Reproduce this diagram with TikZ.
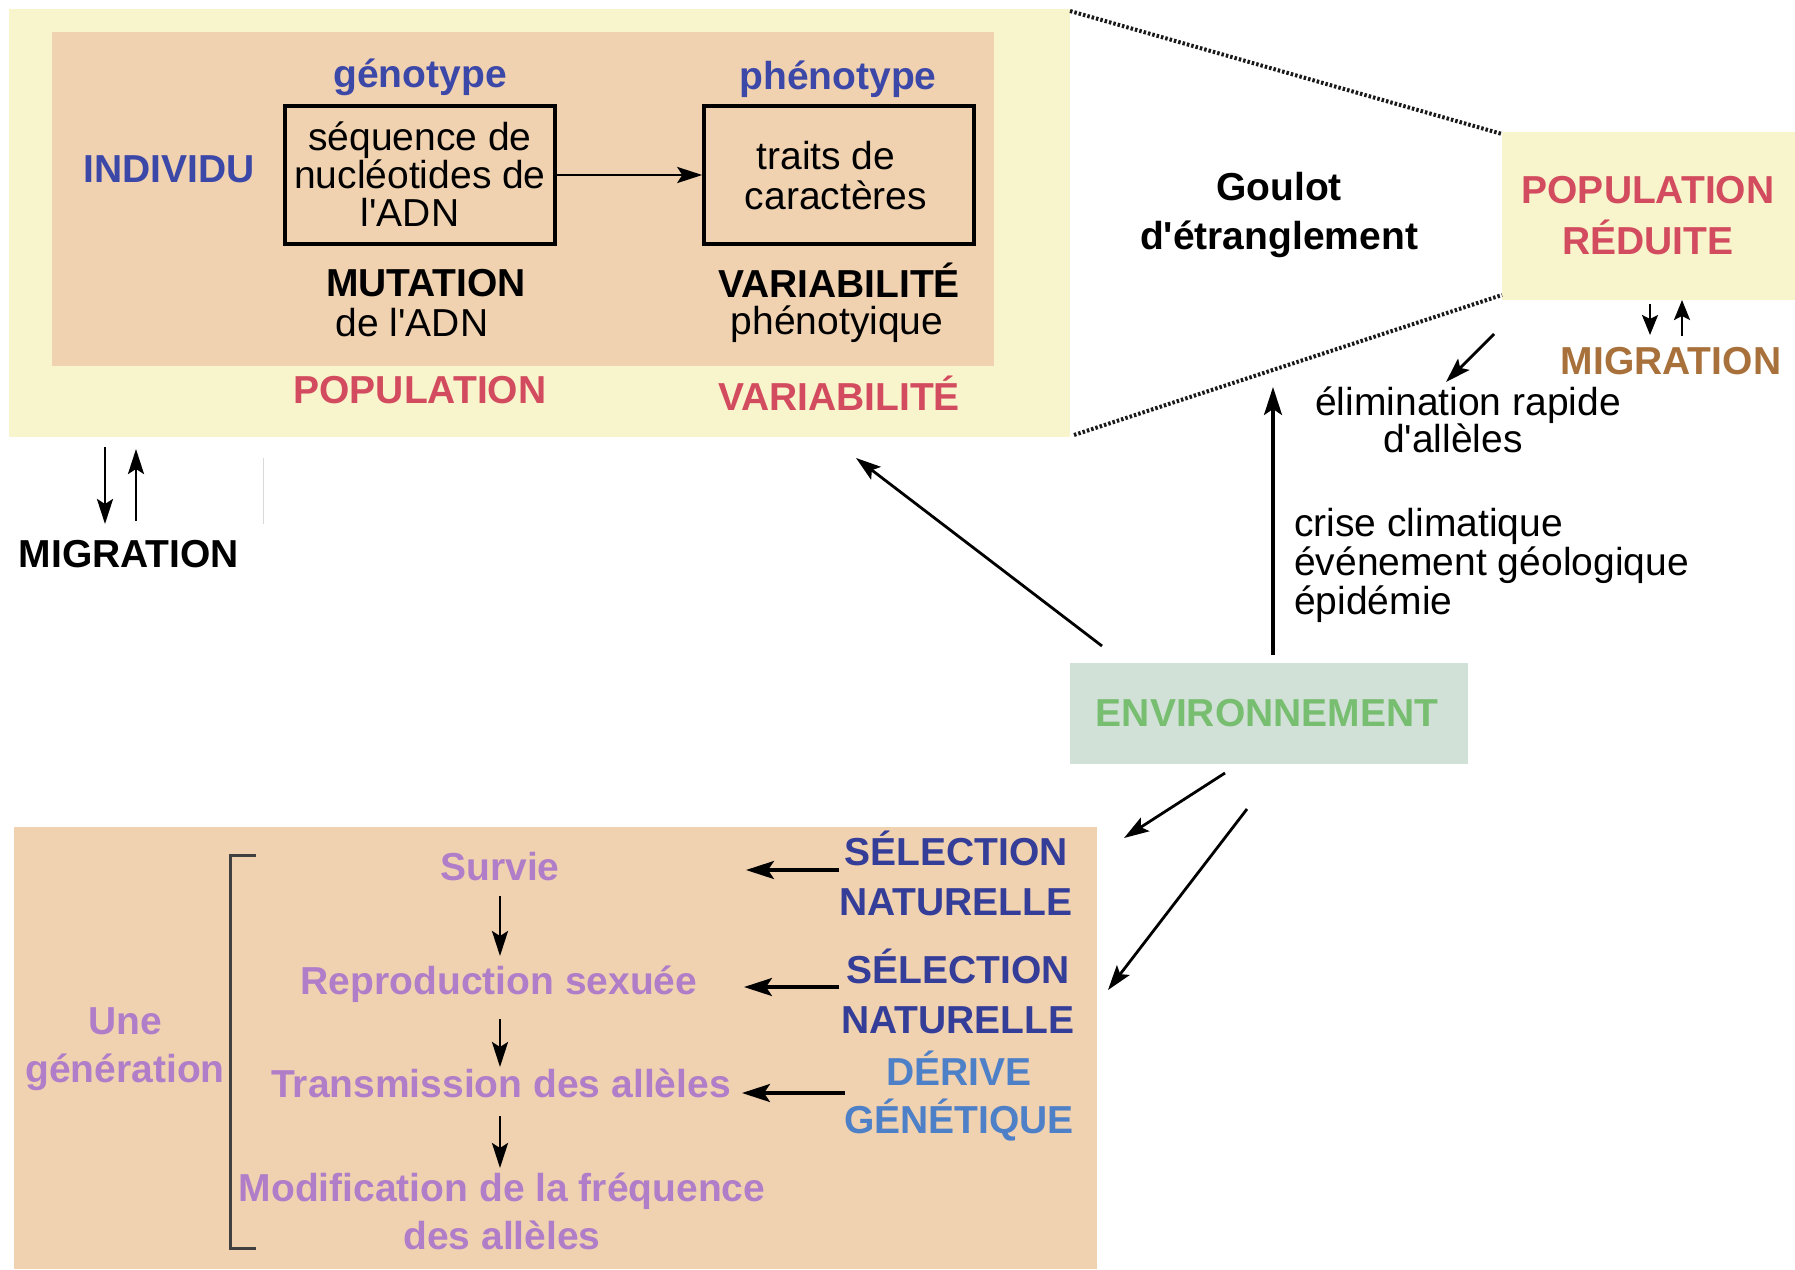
\documentclass[tikz,border=0pt]{standalone}
\usepackage{fontspec}
\setmainfont{Liberation Sans}
\usetikzlibrary{arrows.meta}

\definecolor{popyellow}{HTML}{F8F4CB}
\definecolor{peach}{HTML}{F0D2B1}
\definecolor{envbg}{HTML}{D1E1D7}
\definecolor{envgreen}{HTML}{78BE70}
\definecolor{indblue}{HTML}{3C48A8}
\definecolor{popred}{HTML}{D24B5E}
\definecolor{migbrown}{HTML}{A8703A}
\definecolor{genpurple}{HTML}{B07DC8}
\definecolor{selblue}{HTML}{343D98}
\definecolor{drblue}{HTML}{4E80C8}

\newcommand{\apos}{\textquotesingle}

\tikzset{
  txt/.style={inner sep=0pt, align=center, font=\fontsize{39}{39}\selectfont},
  btxt/.style={txt, font=\fontsize{39}{39}\selectfont\bfseries},
  seltxt/.style={btxt, font=\fontsize{39}{50}\selectfont\bfseries},
  frame/.style={draw=black, line width=3.5pt},
  arr/.style={draw=black, line width=3.2pt, -{Stealth[length=28pt,width=18pt,inset=6pt]}},
  thinarr/.style={draw=black, line width=2.8pt, -{Stealth[length=25pt,width=16pt,inset=5pt]}},
  smallarr/.style={draw=black, line width=2.6pt, -{Stealth[length=20pt,width=16pt,inset=4pt]}},
  dots/.style={draw=black!90, line width=4pt, dash pattern=on 2.5pt off 2pt},
}

\begin{document}
\begin{tikzpicture}[x=1pt,y=-1pt]
\useasboundingbox (0,0) rectangle (1795,1269);

% population panel
\fill[popyellow] (9,9) rectangle (1070,437);
\fill[peach] (52,32) rectangle (994,366);

\node[btxt, text=indblue] (geno) at (420,77) {génotype};
\node[btxt, text=indblue] (pheno) at (838,79) {phénotype};
\node[btxt, text=indblue] (indiv) at (169,169) {INDIVIDU};

\node[frame, minimum width=270pt, minimum height=138pt, inner sep=0pt] (seq) at (420,175) {};
\node[txt, font=\fontsize{39}{38}\selectfont] (seqtxt) at (420,174) {séquence de\\nucléotides de\\\hspace*{-20pt}l\apos ADN};
\node[frame, minimum width=270pt, minimum height=138pt, inner sep=0pt] (traits) at (839,175) {};
\node[txt, font=\fontsize{39}{40}\selectfont] (traitstxt) at (836,176) {\hspace*{-20pt}traits de\\caractères};
\draw[thinarr] (seq.east) -- (traits.west);

\node[btxt] (mut) at (426,283) {MUTATION};
\node[txt] (mutadn) at (412,323) {de l\apos ADN};
\node[btxt] (varb) at (839,280) {VARIABILITÉ};
\node[txt] (varph) at (837,324) {phénotyique};

\node[btxt, text=popred] (pop) at (420,390) {POPULATION};
\node[btxt, text=popred] (var) at (839,393) {VARIABILITÉ};

% bottleneck
\coordinate (bt1) at (1070,11);
\coordinate (bt2) at (1074,435);
\fill[popyellow] (1502,132) rectangle (1795,300);
\node[btxt, text=popred, font=\fontsize{39}{51}\selectfont\bfseries] (popred) at (1648,216) {POPULATION\\RÉDUITE};
\draw[dots] (bt1) -- (1502,134);
\draw[dots] (bt2) -- (1502,295);
\node[btxt, font=\fontsize{39}{49}\selectfont\bfseries] (goulot) at (1279,215) {Goulot\\d\apos étranglement};

\coordinate (pm1) at (1650,304);
\coordinate (pm2) at (1650,335);
\coordinate (pm3) at (1682,336);
\coordinate (pm4) at (1682,300);
\draw[smallarr] (pm1) -- (pm2);
\draw[smallarr] (pm3) -- (pm4);
\node[btxt, text=migbrown] (migr) at (1671,361) {MIGRATION};

\node[txt, font=\fontsize{39}{37}\selectfont] (elim) at (1468,420) {élimination rapide\\\hspace*{-30pt}d\apos allèles};
\coordinate (el0) at (1494,334);
\draw[thinarr] (el0) -- (1446,382);

\node[txt, align=left, anchor=west] (crise) at (1294,565) {crise climatique\\événement géologique\\épidémie};

% environment
\node[fill=envbg, minimum width=398pt, minimum height=101pt, inner sep=0pt] (env) at (1269,713) {};
\node[btxt, text=envgreen] (envtxt) at (1267,713) {ENVIRONNEMENT};
\coordinate (envup) at (1273,655);
\draw[arr] (envup) -- (1273,387);
\coordinate (envdiag) at (1102,646);
\draw[thinarr] (envdiag) -- (856,458);
\coordinate (envd1) at (1225,773);
\draw[thinarr] (envd1) -- (1124,838);
\coordinate (envd2) at (1247,809);
\draw[thinarr] (envd2) -- (1108,990);

% migration of the population
\coordinate (m1) at (105,447);
\coordinate (m2) at (136,521);
\draw[thinarr] (m1) -- (105,524);
\draw[thinarr] (m2) -- (136,449);
\node[btxt] (mig) at (129,554) {MIGRATION};
\draw[black!15, line width=1pt] (263,458) -- (263,524);

% one generation
\fill[peach] (14,827) rectangle (1097,1269);
\draw[draw=black!75, line width=3pt] (256,855) -- (230,855) -- (230,1248) -- (256,1248);
\node[btxt, text=genpurple, font=\fontsize{39}{48}\selectfont\bfseries] (gen) at (125,1049) {Une\\génération};

\node[btxt, text=genpurple] (surv) at (500,867) {Survie};
\node[btxt, text=genpurple] (repr) at (499,984) {Reproduction sexuée};
\node[btxt, text=genpurple] (trans) at (501,1083) {Transmission des allèles};
\node[btxt, text=genpurple, font=\fontsize{39}{48}\selectfont\bfseries] (modif) at (502,1211) {Modification de la fréquence\\des allèles};

\draw[thinarr] (500,896) -- (500,956);
\draw[thinarr] (500,1019) -- (500,1067);
\draw[thinarr] (500,1116) -- (500,1168);

\node[seltxt, text=selblue] (sel1) at (956,873) {SÉLECTION\\NATURELLE};
\node[seltxt, text=selblue] (sel2) at (958,991) {SÉLECTION\\NATURELLE};
\node[btxt, text=drblue, font=\fontsize{39}{48}\selectfont\bfseries] (der) at (959,1096) {DÉRIVE\\GÉNÉTIQUE};

\coordinate (s1) at (839,870);
\coordinate (s2) at (839,987);
\coordinate (s3) at (845,1093);
\draw[arr] (s1) -- (746,870);
\draw[arr] (s2) -- (744,987);
\draw[arr] (s3) -- (742,1093);
\end{tikzpicture}
\end{document}
